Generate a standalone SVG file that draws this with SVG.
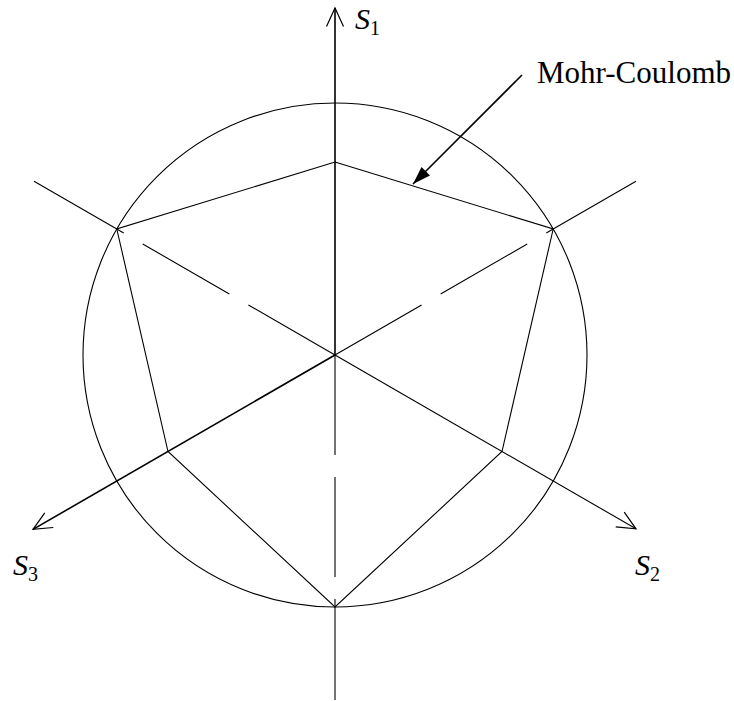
<svg xmlns="http://www.w3.org/2000/svg" width="734" height="701" viewBox="0 0 734 701">
<style>
.ln{fill:none;stroke:#000;stroke-width:1.1}
.thk{fill:none;stroke:#000;stroke-width:1.6}
.dash{fill:none;stroke:#000;stroke-width:1.1;stroke-dasharray:100 22}
.lbl{font-family:"Liberation Serif","Times New Roman",serif;fill:#000}
.it{font-style:italic}
</style>
<defs>
<marker id="open" markerUnits="userSpaceOnUse" viewBox="-20 -10 22 20" refX="0" refY="0" markerWidth="22" markerHeight="20" orient="auto">
<path d="M -18.5 -8.5 L 0 0 L -18.5 8.5" fill="none" stroke="#000" stroke-width="1.2"/>
</marker>
<marker id="solid" markerUnits="userSpaceOnUse" viewBox="-20 -8 22 16" refX="0" refY="0" markerWidth="22" markerHeight="16" orient="auto">
<path d="M -18 -6 L 0 0 L -18 6 Z" fill="#000"/>
</marker>
</defs>
<rect width="734" height="701" fill="#fff"/>
<g id="circle"><circle cx="335" cy="355" r="252" class="ln"/></g>
<g id="hexagon"><polygon points="335,162 553.2,229 502,451.5 335,607 168,451.5 116.8,229" class="ln"/></g>
<g id="connectors">
<line x1="335" y1="355" x2="335" y2="8" class="thk" marker-end="url(#open)"/>
<line x1="335" y1="355" x2="335" y2="607" class="dash"/>
<line x1="335" y1="607" x2="335" y2="700" class="ln"/>
<line x1="335" y1="355" x2="33" y2="529.4" class="thk" marker-end="url(#open)"/>
<line x1="335" y1="355" x2="636" y2="528.8" class="ln" marker-end="url(#open)"/>
<line x1="335" y1="355" x2="116.8" y2="229" class="dash"/>
<line x1="116.8" y1="229" x2="34" y2="181.2" class="ln"/>
<line x1="335" y1="355" x2="553.2" y2="229" class="dash"/>
<line x1="553.2" y1="229" x2="636" y2="181.2" class="ln"/>
<line x1="522" y1="75" x2="413" y2="184" class="thk" stroke-width="2" marker-end="url(#solid)"/>
</g>
<g id="labels">
<text class="lbl" x="355" y="29" font-size="30"><tspan class="it">S</tspan><tspan font-size="20" dy="6">1</tspan></text>
<text class="lbl" x="13" y="575" font-size="30"><tspan class="it">S</tspan><tspan font-size="20" dy="6">3</tspan></text>
<text class="lbl" x="635" y="575" font-size="30"><tspan class="it">S</tspan><tspan font-size="20" dy="6">2</tspan></text>
<text class="lbl" x="537" y="83" font-size="31">Mohr-Coulomb</text>
</g>
</svg>
